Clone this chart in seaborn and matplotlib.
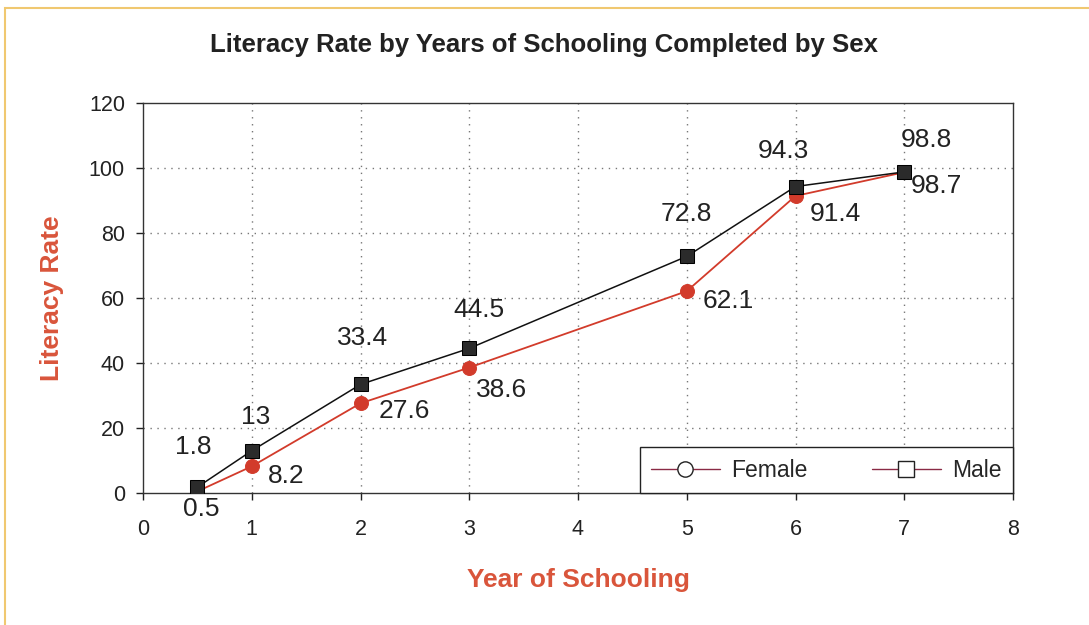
import numpy as np
import pandas as pd
import seaborn as sns
import matplotlib.pyplot as plt
from matplotlib.lines import Line2D
from matplotlib.patches import Rectangle

years = [0.5, 1, 2, 3, 5, 6, 7]
female = [0.5, 8.2, 27.6, 38.6, 62.1, 91.4, 98.7]
male = [1.8, 13, 33.4, 44.5, 72.8, 94.3, 98.8]
female_labels = ["0.5", "8.2", "27.6", "38.6", "62.1", "91.4", "98.7"]
male_labels = ["1.8", "13", "33.4", "44.5", "72.8", "94.3", "98.8"]

# label offsets in pixels (placement only)
female_off = [(4, -18), (34, -10), (44, -8), (32, -22), (42, -10), (40, -18), (32, -14)]
male_off = [(-4, 40), (4, 34), (2, 46), (10, 38), (0, 42), (-12, 36), (22, 32)]

sns.set_style("white")
plt.rcParams['font.family'] = ['Liberation Sans', 'DejaVu Sans']

df_f = pd.DataFrame({'year': years, 'rate': female})
df_m = pd.DataFrame({'year': years, 'rate': male})

fig = plt.figure(figsize=(10.89, 6.25), dpi=100)
ax = fig.add_axes([143/1089, 1-493/625, 870/1089, 390/625])

red = '#d23b2b'
sns.lineplot(data=df_f, x='year', y='rate', ax=ax, color=red, lw=1.3,
             marker='o', markersize=10, markerfacecolor=red, markeredgecolor=red, zorder=3)
sns.lineplot(data=df_m, x='year', y='rate', ax=ax, color='#111111', lw=1.1,
             marker='s', markersize=10.5, markerfacecolor='#2b2b2b', markeredgecolor='#000000', zorder=4)

for x, y, t, o in zip(years, male, male_labels, male_off):
    ax.annotate(t, (x, y), xytext=o, textcoords='offset pixels',
                ha='center', va='center', fontsize=19, color='#222222')
for x, y, t, o in zip(years, female, female_labels, female_off):
    ax.annotate(t, (x, y), xytext=o, textcoords='offset pixels',
                ha='center', va='center', fontsize=19, color='#222222')

ax.set_xlim(0, 8)
ax.set_ylim(0, 120)
ax.set_xticks(range(0, 9))
ax.set_yticks(range(0, 121, 20))
ax.tick_params(axis='both', labelsize=15.5, direction='out', length=5, width=1,
               colors='#222222', bottom=True, left=True)
ax.tick_params(axis='x', pad=14)
ax.tick_params(axis='y', pad=8)
for s in ax.spines.values():
    s.set_color('#333333')
    s.set_linewidth(1)

for yv in range(20, 120, 20):
    ax.axhline(yv, color='#777777', ls=(0, (1, 4)), lw=1, zorder=1)
for xv in range(1, 8):
    ax.axvline(xv, color='#777777', ls=(0, (1, 4)), lw=1, zorder=1)

ax.set_xlabel('Year of Schooling', fontsize=19, fontweight='bold', color='#d9553b', labelpad=20)
ax.set_ylabel('Literacy Rate', fontsize=19, fontweight='bold', color='#d9553b', labelpad=18)
fig.text(0.5, 1-45/625, 'Literacy Rate by Years of Schooling Completed by Sex',
         ha='center', va='center', fontsize=18.5, fontweight='bold', color='#222222')

handles = [
    Line2D([], [], color='#8a2a45', lw=1, marker='o', markersize=11,
           markerfacecolor='white', markeredgecolor='#222222'),
    Line2D([], [], color='#8a2a45', lw=1, marker='s', markersize=11,
           markerfacecolor='white', markeredgecolor='#222222'),
]
leg = ax.legend(handles, ['Female', 'Male'], loc='lower right', bbox_to_anchor=(1, 0),
                ncol=2, fontsize=16.5, frameon=True, fancybox=False, borderaxespad=0,
                handlelength=3, columnspacing=2.8, borderpad=0.5, framealpha=1,
                handletextpad=0.5)
leg.get_frame().set_edgecolor('#222222')
leg.get_frame().set_linewidth(1)
leg.set_zorder(5)

fig.patches.append(Rectangle((5/1089, -0.01), 1.1, (625-8)/625 + 0.01, transform=fig.transFigure,
                             fill=False, edgecolor='#f0c870', lw=1.5))

fig.savefig('out.png', dpi=100)
